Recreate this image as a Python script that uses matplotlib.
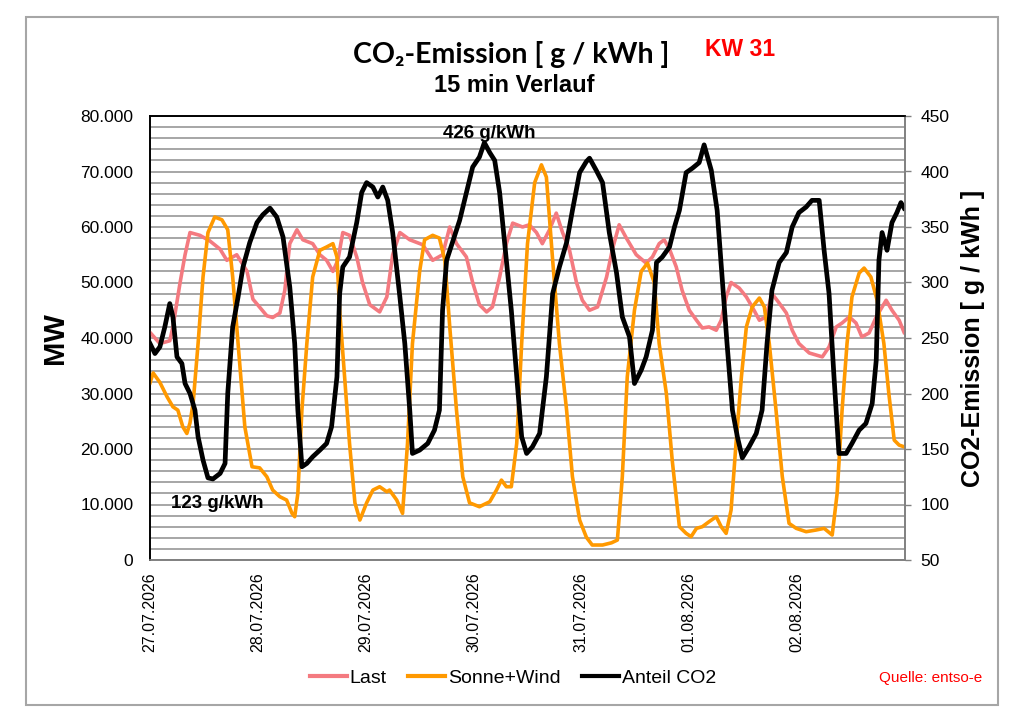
import matplotlib
matplotlib.use("Agg")
import matplotlib.pyplot as plt
from matplotlib.patches import Rectangle
from matplotlib.ticker import FuncFormatter, MultipleLocator

plt.rcParams['font.family'] = ['Liberation Sans', 'DejaVu Sans']

# time in hours since 27.07.2026 00:00
last_h = [0, 1.1, 2.2, 4.4, 5.1, 6.7, 7.8, 8.9, 11.1, 13.3, 15.6, 17.1, 19.3, 21.6, 22.9,
          26, 27.3, 28.9, 30, 31.1, 32.7, 34, 36.2, 37.8, 39.3, 40.7, 41.8, 42.9, 44.4, 46,
          47.3, 48.9, 51.1, 52.7, 54, 55.6, 57.8, 60.7, 62.9, 65.1, 66.7, 68.2, 70.4, 71.8,
          73.3, 74.9, 76.2, 77.8, 79.3, 80.7, 82.9, 84.4, 86, 87.3, 88.9, 90.4, 91.8, 93.3,
          94.9, 96.2, 97.8, 99.6, 101.6, 102.9, 104.4, 106, 108.2, 110.4, 111.8, 113.3, 114.4,
          115.6, 117.1, 118.4, 120, 121.6, 122.9, 124.4, 126, 127.1, 128.2, 129.3, 131.1,
          132.7, 134, 135.6, 137.1, 138.4, 140, 141.6, 142.9, 144.4, 146.7, 149.6, 151.1,
          152.7, 154, 155.6, 157.1, 158.4, 160, 161.6, 163.8, 165.1, 166.7, 167.8]
last_mw = [41, 40, 39, 39.5, 42, 50, 55, 59, 58.5, 57.5, 56, 54, 55, 52, 47,
           44, 43.7, 44.5, 48.6, 57, 59.5, 57.7, 57, 55, 54, 52, 54, 59, 58.5, 54.6,
           50, 46, 44.7, 47.4, 55, 59, 57.7, 56.8, 54, 55, 60, 57, 54.6, 50,
           46, 44.7, 45.6, 51, 57, 60.7, 60, 60.4, 59, 57, 59.5, 62.5, 59, 56,
           50, 46.8, 45, 45.6, 51, 56, 60.4, 58, 55, 53.5, 54.6, 57, 57.7,
           56, 52.8, 48.6, 45, 43.2, 41.8, 42, 41.4, 43.2, 47.4, 50, 49,
           47.4, 45.6, 43.2, 43.8, 48, 46.3, 44.5, 41.4, 39, 37.3, 36.6, 38.4,
           42, 42.7, 43.8, 42.7, 40.2, 40.9, 43.8, 46.8, 45, 43.2, 41]

sw_h = [0, 0.7, 2.2, 3.8, 5.1, 6.2, 7.3, 8.2, 8.9, 9.6, 10.7, 11.8, 12.9, 14.4, 16, 17.3,
        18.4, 19.6, 21.1, 22.7, 24.4, 26, 27.3, 28.9, 30.4, 31.6, 32.2, 32.9, 33.8, 34.9,
        36.2, 37.8, 39.3, 40.7, 41.6, 42.2, 43.3, 44.4, 45.6, 46.7, 48.2, 49.6, 51.1, 52.7,
        53.3, 54.9, 56.2, 57.3, 58.4, 60, 61.1, 62.9, 64.4, 65.6, 66.7, 68.2, 69.6, 71.1,
        73.3, 75.6, 77.1, 78.2, 79.3, 80.4, 81.6, 82.7, 84, 85.6, 87.1, 88.2, 89.6, 91.1,
        92.7, 94, 95.6, 97.1, 98.4, 100.7, 102.7, 104, 105.1, 106.2, 107.8, 109.3, 110.7,
        112.2, 113.3, 114.9, 116.2, 117.8, 119.3, 120.4, 121.6, 122.9, 124.4, 126, 127.1,
        128.2, 129.3, 130.4, 131.6, 132.7, 134, 135.6, 136.7, 137.8, 139.3, 140.7, 142.2,
        143.8, 146, 148.2, 150, 151.8, 152.9, 154, 155.1, 156.2, 157.8, 158.9, 160.4, 161.8,
        163.3, 164.4, 165.6, 166.7, 167.8]
sw_mw = [31.9, 33.7, 32, 29.4, 27.6, 27, 24, 22.8, 24.7, 28.3, 39, 51, 59, 61.8, 61.3, 59.5,
         51, 39, 24, 16.8, 16.6, 15, 12.6, 11.4, 10.8, 8.4, 7.8, 12, 27, 39,
         51, 55.8, 56.4, 57, 54.6, 45, 33, 21, 10.3, 7.2, 10.3, 12.6, 13.2, 12.3,
         12.6, 10.8, 8.4, 21, 39, 52, 57.7, 58.5, 58, 54, 42, 27, 15, 10.3,
         9.6, 10.5, 12.6, 14.4, 13.2, 13.2, 21, 39, 57, 68, 71.2, 69, 54, 39,
         27, 15, 7.2, 4.1, 2.7, 2.7, 3.1, 3.6, 15, 33, 45, 52, 53.5,
         50, 39, 30, 18, 6, 4.8, 4.2, 5.7, 6, 6.9, 7.8, 6,
         4.8, 9, 21, 33, 42, 45.6, 47.2, 45.6, 39, 27, 15, 6.6,
         5.7, 5.1, 5.4, 5.7, 4.5, 12, 27, 39, 47.4, 51.7, 52.6, 51, 46.8,
         39, 30, 21.6, 20.7, 20.4]

co2_h = [0, 1.1, 2.2, 3.3, 4.4, 5.1, 6, 7.1, 7.8, 8.9, 10, 10.7, 11.8, 12.9, 14, 15.6, 16.7,
         17.3, 18.4, 19.6, 20.7, 22.2, 23.8, 25.1, 26.7, 28.2, 29.6, 31.1, 32.2, 32.9, 33.8,
         34.9, 36.2, 37.8, 39.3, 40.4, 41.6, 42.2, 42.9, 44.4, 46, 47.1, 48.2, 49.6, 50.7,
         51.8, 52.9, 54, 55.1, 55.6, 56.7, 57.8, 58.4, 60, 61.8, 63.3, 64.4, 65.1, 66, 67.3,
         68.9, 70.4, 71.8, 73.3, 74.4, 75.6, 76.7, 77.8, 78.9, 80.4, 81.6, 82.7, 83.8, 85.1,
         86.7, 88.2, 89.6, 91.1, 92.7, 94, 95.6, 97.1, 97.8, 99.3, 100.7, 102.2, 103.8, 105.1,
         106.7, 107.8, 109.3, 110.4, 111.8, 112.7, 114, 115.6, 116.7, 117.8, 119.3, 120.7,
         122.2, 123.3, 124.9, 126.2, 127.3, 128.4, 129.6, 130.7, 131.8, 133.3, 134.9, 136.2,
         137.3, 138.4, 140, 141.6, 142.9, 144.4, 146, 147.3, 148.9, 150, 151.1, 152.2, 153.3,
         154.9, 156.2, 157.8, 159.3, 160.7, 161.6, 162.2, 162.9, 164, 165.1, 166.2, 167.1, 167.8]
co2_g = [245, 236, 242, 260, 281, 269, 233, 227, 209, 200, 185, 161, 140, 124, 123, 128, 137,
         200, 260, 287, 314, 336, 354, 361, 367, 359, 341, 296, 245, 185, 134,
         137, 143, 149, 155, 170, 215, 290, 314, 323, 354, 381, 390, 386, 377,
         386, 374, 345, 305, 287, 245, 185, 146, 149, 155, 167, 185, 275, 320, 336,
         356, 381, 404, 413, 426, 417, 410, 381, 336, 275, 215, 161, 146, 152,
         164, 215, 290, 314, 336, 365, 399, 409, 412, 401, 390, 345, 309, 269,
         251, 209, 221, 233, 257, 318, 323, 332, 350, 365, 399, 403,
         408, 424, 401, 365, 305, 245, 185, 161, 142, 152, 164, 185,
         245, 293, 318, 327, 350, 363, 368, 374, 374, 329, 290, 215, 146,
         146, 155, 167, 173, 191, 230, 320, 345, 329, 354, 363, 372, 367]

day_labels = ['27.07.2026', '28.07.2026', '29.07.2026', '30.07.2026',
              '31.07.2026', '01.08.2026', '02.08.2026']

fig = plt.figure(figsize=(10.24, 7.24), dpi=100)
fig.patches.append(Rectangle((26 / 1024, 1 - 705 / 724), 972 / 1024, 688 / 724,
                             transform=fig.transFigure, fill=False,
                             edgecolor='#a6a6a6', linewidth=1.5))

ax = fig.add_axes([150 / 1024, 1 - 560 / 724, 755 / 1024, 444 / 724])
ax2 = ax.twinx()

ax.plot(last_h, [v * 1000 for v in last_mw], color='#f47a80', lw=2.6, zorder=3)
ax.plot(sw_h, [v * 1000 for v in sw_mw], color='#ff9900', lw=2.6, zorder=4)
ax2.plot(co2_h, co2_g, color='black', lw=3.4)

ax.set_xlim(0, 168)
ax.set_ylim(0, 80000)
ax2.set_ylim(50, 450)
ax.yaxis.set_major_locator(MultipleLocator(10000))
ax.yaxis.set_minor_locator(MultipleLocator(2000))
ax2.yaxis.set_major_locator(MultipleLocator(50))
ax.yaxis.set_major_formatter(FuncFormatter(lambda v, p: f"{v:,.0f}".replace(",", ".")))
ax.grid(True, which='both', axis='y', color='#a6a6a6', lw=1.4)
ax.set_axisbelow(True)

ax.set_xticks([24 * i for i in range(7)])
ax.set_xticklabels(day_labels, rotation=90, fontsize=11.5)
ax.tick_params(axis='x', length=0, pad=9)
ax.tick_params(axis='y', which='both', length=0, labelsize=12.5, pad=12)
ax2.tick_params(axis='y', length=4, width=1, color='#808080', labelsize=12.5, pad=7)

for a in (ax, ax2):
    a.spines['left'].set_color('black')
    a.spines['top'].set_color('black')
    a.spines['right'].set_color('#808080')
    a.spines['bottom'].set_color('#808080')
    for s in a.spines.values():
        s.set_linewidth(1.2)

ax.set_ylabel('MW', fontsize=21, fontweight='bold', labelpad=8)
ax2.set_ylabel('CO2-Emission [ g / kWh ]', fontsize=18, fontweight='bold', labelpad=8)

fig.text(511 / 1024, 1 - 55 / 724, 'CO₂-Emission [ g / kWh ]', fontsize=20.5, fontweight='bold',
         ha='center', va='center', family=['Lato', 'DejaVu Sans'])
fig.text(514 / 1024, 1 - 85 / 724, '15 min Verlauf', fontsize=17, fontweight='bold',
         ha='center', va='center')
fig.text(740 / 1024, 1 - 50 / 724, 'KW 31', fontsize=16.5, fontweight='bold', color='red',
         ha='center', va='center')

ax2.text(75.6, 434, '426 g/kWh', fontsize=13.5, fontweight='bold', ha='center', va='center')
ax2.text(14.9, 101, '123 g/kWh', fontsize=13.5, fontweight='bold', ha='center', va='center')

h1, = ax.plot([], [], color='#f47a80', lw=3)
h2, = ax.plot([], [], color='#ff9900', lw=3)
h3, = ax.plot([], [], color='black', lw=3)
fig.legend([h1, h2, h3], ['Last', 'Sonne+Wind', 'Anteil CO2'], ncol=3, frameon=False,
           fontsize=14, loc='center', bbox_to_anchor=(513 / 1024, 1 - 678 / 724),
           handlelength=1.9, handletextpad=0.15, columnspacing=1.1)
fig.text(931 / 1024, 1 - 678 / 724, 'Quelle: entso-e', fontsize=11, color='red',
         ha='center', va='center')

fig.savefig('out.png', dpi=100)
